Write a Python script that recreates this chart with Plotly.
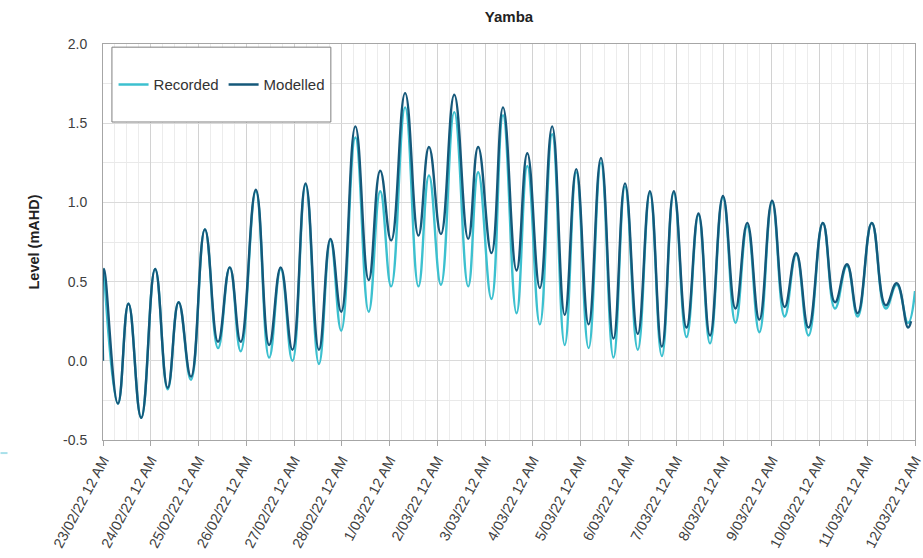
import pandas as pd
import plotly.graph_objects as go

# ---- data (hours after 23/02/22 12 AM, level in mAHD) ----
start_time = "2022-02-23 00:00"
end_time = "2022-03-12 00:00"

recorded_hours = [0.5, 7.5, 12.8, 19.2, 26.2, 32.5, 38.0, 44.2, 51.2, 57.8, 63.7, 69.2,
                  76.8, 83.5, 89.3, 95.2, 101.8, 108.5, 114.3, 119.7, 126.8, 133.5,
                  139.3, 144.8, 151.8, 158.5, 163.8, 169.8, 176.5, 183.5, 188.5, 195.2,
                  201.0, 207.8, 213.2, 219.5, 225.7, 232.0, 237.8, 244.0, 250.2, 256.5,
                  262.3, 268.7, 274.8, 280.8, 286.8, 293.2, 299.2, 305.0, 311.5, 317.8,
                  323.7, 329.8, 336.2, 342.5, 348.3, 354.5, 361.7, 367.8, 373.8, 379.2,
                  386.3, 393.3, 398.8, 404.5, 408.0]
recorded_level = [0.57, -0.27, 0.36, -0.36, 0.58, -0.18, 0.37, -0.12, 0.83, 0.08, 0.59, 0.06,
                  1.07, 0.02, 0.58, 0.00, 1.11, -0.02, 0.76, 0.19, 1.41, 0.31,
                  1.07, 0.47, 1.60, 0.47, 1.17, 0.48, 1.57, 0.47, 1.19, 0.39,
                  1.55, 0.30, 1.23, 0.23, 1.43, 0.10, 1.19, 0.08, 1.25, 0.02,
                  1.10, 0.07, 1.06, 0.03, 1.06, 0.15, 0.92, 0.11, 1.03, 0.24,
                  0.85, 0.18, 1.00, 0.28, 0.67, 0.16, 0.87, 0.33, 0.60, 0.28,
                  0.87, 0.33, 0.48, 0.24, 0.44]

modelled_hours = [0.0, 0.5, 7.5, 12.8, 19.2, 26.2, 32.5, 38.0, 44.2, 51.2, 57.8, 63.7, 69.2,
                  76.8, 83.5, 89.3, 95.2, 101.8, 108.5, 114.3, 119.7, 126.8, 133.5,
                  139.3, 144.8, 151.8, 158.5, 163.8, 169.8, 176.5, 183.5, 188.5, 195.2,
                  201.0, 207.8, 213.2, 219.5, 225.7, 232.0, 237.8, 244.0, 250.2, 256.5,
                  262.3, 268.7, 274.8, 280.8, 286.8, 293.2, 299.2, 305.0, 311.5, 317.8,
                  323.7, 329.8, 336.2, 342.5, 348.3, 354.5, 361.7, 367.8, 373.8, 379.2,
                  386.3, 393.3, 398.8, 404.5, 406.0]
modelled_level = [0.00, 0.58, -0.27, 0.36, -0.36, 0.58, -0.17, 0.37, -0.10, 0.83, 0.12, 0.59, 0.12,
                  1.08, 0.10, 0.59, 0.07, 1.12, 0.07, 0.77, 0.31, 1.48, 0.51,
                  1.20, 0.76, 1.69, 0.79, 1.35, 0.80, 1.68, 0.77, 1.35, 0.68,
                  1.60, 0.57, 1.31, 0.46, 1.48, 0.29, 1.21, 0.23, 1.28, 0.14,
                  1.12, 0.17, 1.07, 0.09, 1.07, 0.21, 0.93, 0.16, 1.04, 0.33,
                  0.87, 0.26, 1.01, 0.34, 0.68, 0.21, 0.87, 0.37, 0.61, 0.30,
                  0.87, 0.35, 0.49, 0.21, 0.25]

y_ticks = [-0.5, 0.0, 0.5, 1.0, 1.5, 2.0]
y_tick_labels = ["-0.5", "0.0", "0.5", "1.0", "1.5", "2.0"]

t0 = pd.Timestamp(start_time)
t_end = pd.Timestamp(end_time)
rec_x = [t0 + pd.Timedelta(hours=h) for h in recorded_hours]
mod_x = [t0 + pd.Timedelta(hours=h) for h in modelled_hours]
day_ticks = list(pd.date_range(t0, t_end, freq="D"))
day_labels = [f"{d.day}/{d.month:02d}/{d.year % 100:02d} 12 AM" for d in day_ticks]

REC_COLOR = "#3cc0cf"
MOD_COLOR = "#15587a"
FONT = "Liberation Sans, Arial, sans-serif"

fig = go.Figure()
fig.add_trace(go.Scatter(x=rec_x, y=recorded_level, name="Recorded", mode="lines",
                         line=dict(color=REC_COLOR, width=2.4, shape="spline", smoothing=1.3)))
fig.add_trace(go.Scatter(x=mod_x, y=modelled_level, name="Modelled", mode="lines",
                         line=dict(color=MOD_COLOR, width=2.4, shape="spline", smoothing=1.3)))

fig.update_layout(
    width=923, height=558,
    margin=dict(l=103, r=8, t=44, b=118),
    paper_bgcolor="white", plot_bgcolor="white",
    font=dict(family=FONT, color="#404040", size=14),
    title=dict(text="<b>Yamba</b>", x=0.5, xref="paper", xanchor="center",
               y=1, yref="container", yanchor="top", pad=dict(t=11),
               font=dict(size=15, color="#222222", family=FONT)),
    showlegend=True,
    legend=dict(orientation="h", x=0.013, y=0.897, xanchor="left", yanchor="middle",
                bgcolor="rgba(0,0,0,0)", borderwidth=0, itemwidth=30,
                font=dict(size=15, color="#333333", family=FONT)),
    shapes=[
        dict(type="rect", xref="paper", yref="paper", x0=0.011, x1=0.2806, y0=0.803, y1=0.992,
             line=dict(color="#7f7f7f", width=1), fillcolor="white", layer="above"),
        dict(type="line", xref="paper", yref="paper", x0=-0.1262, x1=-0.1176, y0=-0.033, y1=-0.033,
             line=dict(color="#a8e0ea", width=2)),
    ],
)

fig.update_xaxes(
    type="date",
    range=[t0, t_end],
    automargin=False,
    tickmode="array", tickvals=day_ticks, ticktext=day_labels,
    tickangle=-62,
    ticklabeloverflow="allow",
    tickfont=dict(size=14.5, color="#404040"),
    ticks="outside", ticklen=5, tickcolor="#a6a6a6",
    showgrid=True, gridcolor="#d2d2d2", gridwidth=1,
    minor=dict(dtick=21600000, tick0=start_time, showgrid=True, gridcolor="#ececec",
               gridwidth=1, ticks=""),
    showline=True, linecolor="#a6a6a6", linewidth=1, mirror=True,
    zeroline=False,
)
fig.update_yaxes(
    range=[-0.5, 2.0],
    automargin=False,
    tickmode="array", tickvals=y_ticks, ticktext=y_tick_labels,
    tickfont=dict(size=14, color="#404040"),
    ticklabelstandoff=12,
    showgrid=True, gridcolor="#dadada", gridwidth=1,
    minor=dict(dtick=0.25, tick0=0, showgrid=True, gridcolor="#e9e9e9", gridwidth=1),
    showline=True, linecolor="#a6a6a6", linewidth=1, mirror=True,
    zeroline=False,
    title=dict(text="<b>Level (mAHD)</b>", standoff=20,
               font=dict(size=14.5, color="#222222", family=FONT)),
)

fig.write_html("out.html")
